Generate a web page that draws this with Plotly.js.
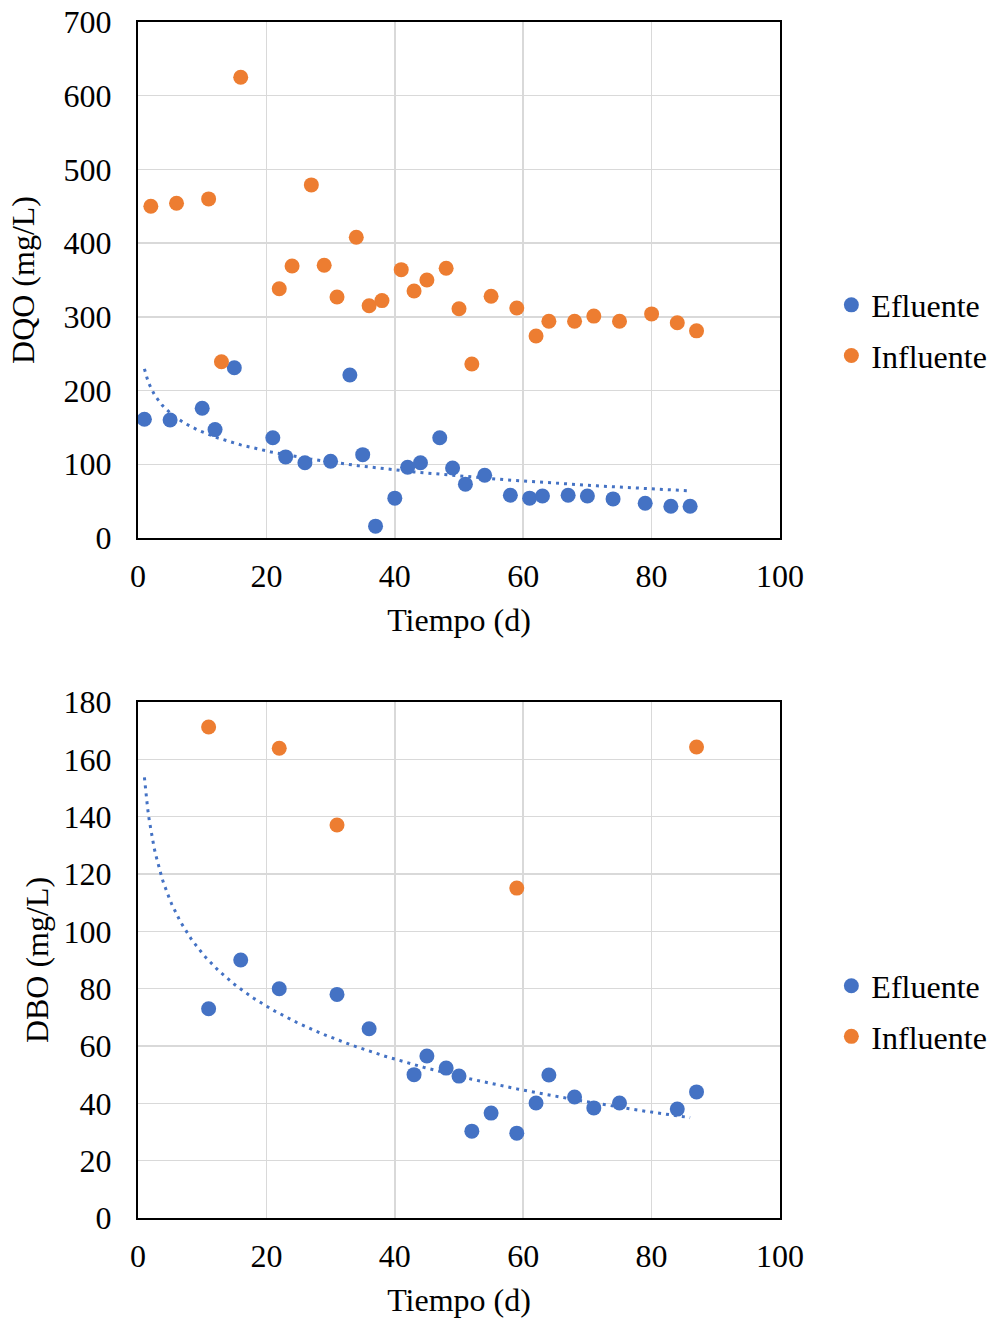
<!DOCTYPE html>
<html><head><meta charset="utf-8">
<script src="https://cdn.plot.ly/plotly-3.0.1.min.js"></script>
<style>body{margin:0;background:#fff}#chart{width:989px;height:1321px}</style>
</head><body><div id="chart"></div>
<script>
// ---- DQO (mg/L) ----
const dqoEfluenteDias = [1, 5, 10, 12, 15, 21, 23, 26, 30, 33, 35, 37, 40, 42, 44, 47, 49, 51, 54, 58, 61, 63, 67, 70, 74, 79, 83, 86];
const dqoEfluente     = [161, 160, 176, 147, 231, 136, 110, 102, 104, 221, 113, 16, 54, 96, 102, 136, 95, 73, 85, 58, 54, 57, 58, 57, 53, 47, 43, 43];
const dqoInfluenteDias = [2, 6, 11, 13, 16, 22, 24, 27, 29, 31, 34, 36, 38, 41, 43, 45, 48, 50, 52, 55, 59, 62, 64, 68, 71, 75, 80, 84, 87];
const dqoInfluente     = [450, 454, 460, 239, 625, 338, 369, 479, 370, 327, 408, 315, 322, 364, 335, 350, 366, 311, 236, 328, 312, 274, 294, 294, 301, 294, 304, 292, 281];

// ---- DBO (mg/L) ----
const dboEfluenteDias = [11, 16, 22, 31, 36, 43, 45, 48, 50, 52, 55, 59, 62, 64, 68, 71, 75, 84, 87];
const dboEfluente     = [73, 90, 80, 78, 66, 50, 56.5, 52.3, 49.5, 30.3, 36.6, 29.6, 40.1, 49.9, 42.2, 38.4, 40.1, 38, 44];
const dboInfluenteDias = [11, 22, 31, 59, 87];
const dboInfluente     = [171.3, 163.9, 137.1, 115.1, 164.3];

// trendline span (days) used by the logarithmic trendline
const trendDias = [1, 86];

const seriesNames = ['Efluente', 'Influente'];
const xTitle = 'Tiempo (d)';
const yTitles = ['DQO (mg/L)', 'DBO (mg/L)'];

const BLUE = '#4472c4', ORANGE = '#ed7d31';
const FONT = 'Liberation Serif, Times New Roman, serif';
const FS = 32;

// least-squares fit y = a*ln(x) + b
function logFit(xs, ys) {
  const n = xs.length;
  let sx = 0, sy = 0, sxx = 0, sxy = 0;
  for (let i = 0; i < n; i++) {
    const lx = Math.log(xs[i]);
    sx += lx; sy += ys[i]; sxx += lx * lx; sxy += lx * ys[i];
  }
  const a = (n * sxy - sx * sy) / (n * sxx - sx * sx);
  const b = (sy - a * sx) / n;
  return {a, b};
}
function trendTrace(xs, ys, xa, ya) {
  const f = logFit(xs, ys);
  const tx = [], ty = [];
  for (let x = trendDias[0]; x <= trendDias[1] + 1e-9; x += 0.25) {
    tx.push(x); ty.push(f.a * Math.log(x) + f.b);
  }
  return {x: tx, y: ty, xaxis: xa, yaxis: ya, mode: 'lines', type: 'scatter',
    line: {color: BLUE, width: 3, dash: '3px,5px'}, showlegend: false, hoverinfo: 'skip'};
}

const mk = (c) => ({color: c, size: 15});

const traces = [
  trendTrace(dqoEfluenteDias, dqoEfluente, 'x', 'y'),
  {x: dqoEfluenteDias, y: dqoEfluente, xaxis: 'x', yaxis: 'y', mode: 'markers', type: 'scatter',
    name: seriesNames[0], marker: mk(BLUE), legend: 'legend', legendgroup: 'a1'},
  {x: dqoInfluenteDias, y: dqoInfluente, xaxis: 'x', yaxis: 'y', mode: 'markers', type: 'scatter',
    name: seriesNames[1], marker: mk(ORANGE), legend: 'legend', legendgroup: 'b1'},
  trendTrace(dboEfluenteDias, dboEfluente, 'x2', 'y2'),
  {x: dboEfluenteDias, y: dboEfluente, xaxis: 'x2', yaxis: 'y2', mode: 'markers', type: 'scatter',
    name: seriesNames[0], marker: mk(BLUE), legend: 'legend2', legendgroup: 'a2'},
  {x: dboInfluenteDias, y: dboInfluente, xaxis: 'x2', yaxis: 'y2', mode: 'markers', type: 'scatter',
    name: seriesNames[1], marker: mk(ORANGE), legend: 'legend2', legendgroup: 'b2'}
];

const axisCommon = {
  showline: true, mirror: true, linecolor: '#000', linewidth: 2,
  showgrid: true, gridcolor: '#d9d9d9', gridwidth: 1.5,
  zeroline: false, ticks: '', tickfont: {family: FONT, size: FS, color: '#000'},
  fixedrange: true, automargin: true
};
const xax = (anchor) => Object.assign({}, axisCommon, {
  anchor, range: [0, 100], dtick: 20, tick0: 0, ticklabelstandoff: 9,
  title: {text: xTitle, font: {family: FONT, size: FS, color: '#000'}, standoff: 15}
});
const legendCommon = {
  font: {family: FONT, size: FS, color: '#000'}, bgcolor: 'rgba(0,0,0,0)',
  xanchor: 'left', yanchor: 'middle', traceorder: 'grouped', tracegroupgap: 6,
  itemsizing: 'trace'
};

const layout = {
  width: 989, height: 1321,
  margin: {l: 138, r: 209, t: 22, b: 103, autoexpand: false},
  paper_bgcolor: '#fff', plot_bgcolor: '#fff',
  font: {family: FONT, size: FS, color: '#000'},
  xaxis: xax('y'),
  xaxis2: xax('y2'),
  yaxis: Object.assign({}, axisCommon, {
    domain: [0.5686, 1], range: [0, 700], dtick: 100, ticklabelstandoff: 18,
    title: {text: yTitles[0], font: {family: FONT, size: FS, color: '#000'}, standoff: 19}
  }),
  yaxis2: Object.assign({}, axisCommon, {
    domain: [0, 0.4314], range: [0, 180], dtick: 20, ticklabelstandoff: 18,
    title: {text: yTitles[1], font: {family: FONT, size: FS, color: '#000'}, standoff: 5}
  }),
  legend: Object.assign({}, legendCommon, {x: 1.08, y: 0.742}),
  legend2: Object.assign({}, legendCommon, {x: 1.08, y: 0.1727}),
  showlegend: true
};

Plotly.newPlot('chart', traces, layout, {displayModeBar: false, staticPlot: true});
</script>
</body></html>
